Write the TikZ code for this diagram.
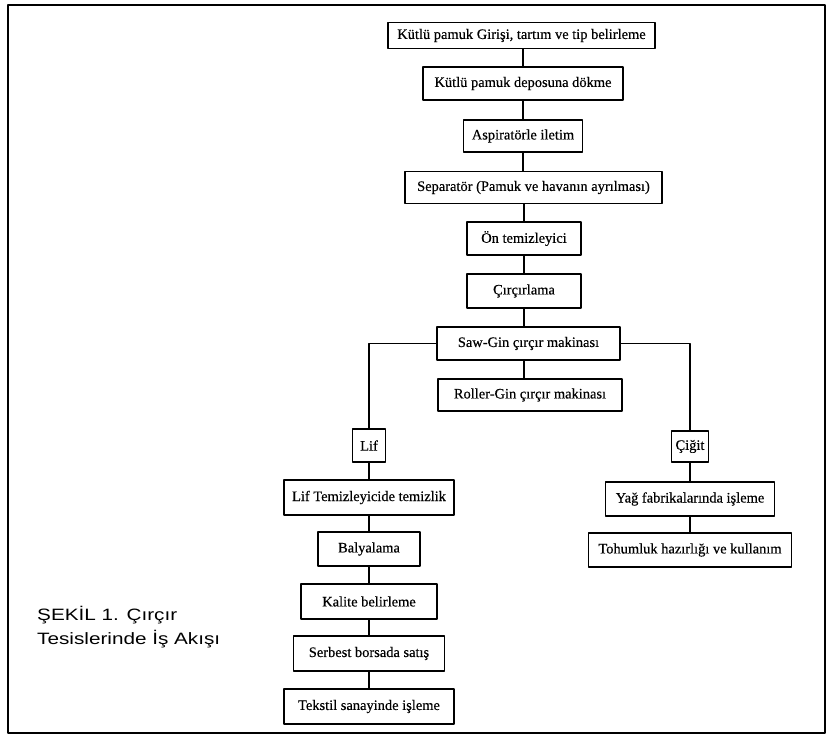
\documentclass[tikz,border=0pt]{standalone}
\usepackage{fontspec}
\setmainfont[FakeBold=0.4]{Liberation Serif}
\newfontfamily\captionfont[FakeStretch=1.26]{Liberation Sans}
\begin{document}
\begin{tikzpicture}[>=latex,line join=bevel,
  box/.style={draw,line width=1.4bp,minimum height=33bp,inner sep=0bp,font=\fontsize{14.5}{16}\selectfont},
  link/.style={black,line width=1.1bp},
  frame/.style={draw,line width=1.3bp},]
%%
\useasboundingbox (0bp,0bp) rectangle (829bp,734bp);
\draw [frame] (8bp,1bp) rectangle (825bp,729bp);
%% ana hat
  \node (node_giris) at (521.5bp,698.5bp) [box,minimum width=267bp,minimum height=26bp] {Kütlü pamuk Girişi, tartım ve tip belirleme};
  \node (node_depo) at (523bp,650.5bp) [box,minimum width=200bp] {Kütlü pamuk deposuna dökme};
  \node (node_aspirator) at (523bp,598bp) [box,minimum width=119bp,minimum height=32bp] {Aspiratörle iletim};
  \node (node_separator) at (533.5bp,546.5bp) [box,minimum width=257bp,minimum height=32bp] {Separatör (Pamuk ve havanın ayrılması)};
  \node (node_ontemiz) at (524bp,495.5bp) [box,minimum width=114bp] {Ön temizleyici};
  \node (node_circirlama) at (524bp,443bp) [box,minimum width=114bp,minimum height=34bp] {Çırçırlama};
  \node (node_sawgin) at (528.5bp,390.5bp) [box,minimum width=183bp] {Saw-Gin çırçır makinası};
  \node (node_rollergin) at (530bp,339bp) [box,minimum width=184bp,minimum height=32bp] {Roller-Gin çırçır makinası};
%% lif kolu
  \node (node_lif) at (369bp,288.5bp) [box,minimum width=33bp] {Lif};
  \node (node_liftemiz) at (369bp,236.5bp) [box,minimum width=170bp,minimum height=35bp] {Lif Temizleyicide temizlik};
  \node (node_balya) at (369bp,185bp) [box,minimum width=102bp,minimum height=34bp] {Balyalama};
  \node (node_kalite) at (369bp,132.5bp) [box,minimum width=136bp,minimum height=35bp] {Kalite belirleme};
  \node (node_borsa) at (369bp,80.5bp) [box,minimum width=151bp,minimum height=35bp] {Serbest borsada satış};
  \node (node_tekstil) at (369bp,27.5bp) [box,minimum width=170bp,minimum height=35bp] {Tekstil sanayinde işleme};
%% çiğit kolu
  \node (node_cigit) at (690bp,287.5bp) [box,minimum width=37bp,minimum height=31bp] {Çiğit};
  \node (node_yag) at (690bp,235bp) [box,minimum width=169bp,minimum height=34bp] {Yağ fabrikalarında işleme};
  \node (node_tohum) at (690bp,184bp) [box,minimum width=203bp,minimum height=34bp] {Tohumluk hazırlığı ve kullanım};
%% başlık
  \node (node_sekil) at (37bp,128bp) [anchor=north west,align=left,inner sep=0bp,font=\captionfont\fontsize{16.5}{24}\selectfont] {ŞEKİL 1. Çırçır\\Tesislerinde İş Akışı};
%%
  \draw [link] (node_giris.south -| node_depo) -- (node_depo);
  \draw [link] (node_depo) -- (node_aspirator);
  \draw [link] (node_aspirator) -- (node_aspirator |- node_separator.north);
  \draw [link] (node_separator.south -| node_ontemiz) -- (node_ontemiz);
  \draw [link] (node_ontemiz) -- (node_circirlama);
  \draw [link] (node_circirlama) -- (node_circirlama |- node_sawgin.north);
  \draw [link] (node_sawgin.south -| node_circirlama) -- (node_rollergin.north -| node_circirlama);
  \draw [link] (node_sawgin.west) -| (node_lif.north);
  \draw [link] (node_sawgin.east) -| (node_cigit.north);
  \draw [link] (node_lif) -- (node_liftemiz);
  \draw [link] (node_liftemiz) -- (node_balya);
  \draw [link] (node_balya) -- (node_kalite);
  \draw [link] (node_kalite) -- (node_borsa);
  \draw [link] (node_borsa) -- (node_tekstil);
  \draw [link] (node_cigit) -- (node_yag);
  \draw [link] (node_yag) -- (node_tohum);
%
\end{tikzpicture}
\end{document}
